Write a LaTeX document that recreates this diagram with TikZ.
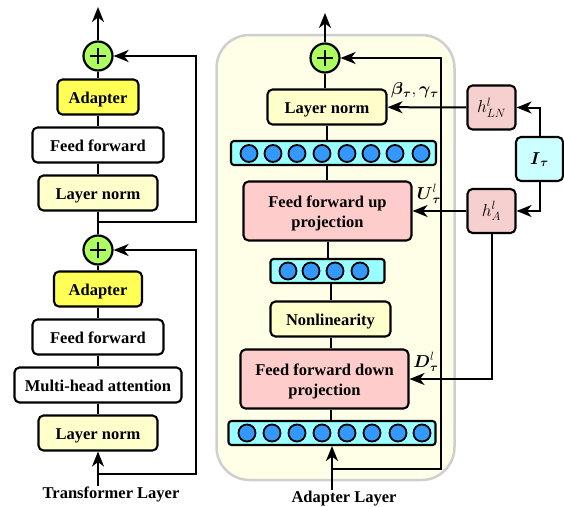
\documentclass[tikz,border=0pt]{standalone}
\usepackage{amsmath}
\usepackage{fontspec}
\setmainfont{Liberation Serif}
\usetikzlibrary{arrows.meta}
\definecolor{panel}{HTML}{FFFFE8}
\definecolor{panelline}{HTML}{CFCFCF}
\definecolor{adaptercol}{HTML}{FFFF55}
\definecolor{normcol}{HTML}{FFFFCC}
\definecolor{projcol}{HTML}{FFCCCC}
\definecolor{hypercol}{HTML}{F6CFCF}
\definecolor{taskcol}{HTML}{CCFFFF}
\definecolor{barcol}{HTML}{99FFFF}
\definecolor{dotcol}{HTML}{3399FF}
\definecolor{pluscol}{HTML}{ADFF5F}
\tikzset{
  box/.style={draw=black, line width=2.1pt, rounded corners=5pt, inner sep=0pt, align=center, text height=17pt, text depth=4pt, font=\bfseries\fontsize{16.5}{20}\selectfont},
  whitebox/.style={box, fill=white},
  adapterbox/.style={box, fill=adaptercol},
  normbox/.style={box, fill=normcol},
  projbox/.style={box, fill=projcol, text height=36pt, text depth=4pt},
  hyperbox/.style={box, fill=hypercol, text height=14pt, text depth=4pt, font=\fontsize{18}{20}\selectfont},
  taskbox/.style={box, fill=taskcol, text height=14pt, text depth=4pt, font=\fontsize{18}{20}\selectfont},
  barbox/.style={box, rounded corners=3pt, fill=barcol},
  dot/.style={circle, draw=black, line width=1.8pt, fill=dotcol, inner sep=0pt, minimum size=17pt},
  plusnode/.style={circle, draw=black, line width=2.2pt, fill=pluscol, inner sep=0pt, minimum size=29pt,
    path picture={
      \draw[line width=2.6pt] ([xshift=-8pt]path picture bounding box.center) -- ([xshift=8pt]path picture bounding box.center);
      \draw[line width=2.6pt] ([yshift=-8pt]path picture bounding box.center) -- ([yshift=8pt]path picture bounding box.center);
    }},
  link/.style={line width=2pt},
  flow/.style={line width=2pt, -{Stealth[length=15pt,width=12pt,inset=4.5pt]}},
  caption/.style={inner sep=0pt, font=\bfseries\fontsize{16.5}{20}\selectfont},
  maths/.style={inner sep=0pt, font=\fontsize{17.28}{20}\selectfont}
}
\begin{document}
\begin{tikzpicture}[x=1pt,y=-1pt]
  \useasboundingbox (0,0) rectangle (564,506);

  % panel behind the adapter
  \node[draw=panelline, fill=panel, line width=2.5pt, rounded corners=33pt, minimum width=238pt, minimum height=445pt, inner sep=0pt] (panel) at (335.5,257.5) {};

  % transformer layer
  \node[plusnode] (plusA) at (98,56) {};
  \node[adapterbox, minimum width=81pt, minimum height=35pt] (adapterA) at (98,97) {Adapter};
  \node[whitebox, minimum width=131pt, minimum height=35pt] (feedA) at (98,145) {Feed forward};
  \node[normbox, minimum width=119pt, minimum height=35pt] (normA) at (98,193) {Layer norm};
  \node[plusnode] (plusB) at (98,250) {};
  \node[adapterbox, minimum width=88pt, minimum height=35pt] (adapterB) at (98,289) {Adapter};
  \node[whitebox, minimum width=131pt, minimum height=35pt] (feedB) at (98,337) {Feed forward};
  \node[whitebox, minimum width=167pt, minimum height=35pt] (attn) at (98,385) {Multi-head attention};
  \node[normbox, minimum width=119pt, minimum height=35pt] (normB) at (98,433) {Layer norm};
  \node[caption] (transformer) at (111,494) {Transformer Layer};
  \coordinate (topA) at (98,7);
  \coordinate (inA) at (98,486);
  \coordinate (tapA) at (98,222);
  \coordinate (tapB) at (98,474);

  \draw[flow] (plusA) -- (topA);
  \draw[link] (plusA) -- (adapterA);
  \draw[link] (adapterA) -- (feedA);
  \draw[link] (feedA) -- (normA);
  \draw[link] (normA) -- (plusB);
  \draw[link] (plusB) -- (adapterB);
  \draw[link] (adapterB) -- (feedB);
  \draw[link] (feedB) -- (attn);
  \draw[link] (attn) -- (normB);
  \draw[flow] (inA) -- (normB);
  \draw[flow] (tapA) -- (196,222) |- (plusA);
  \draw[flow] (tapB) -- (196,474) |- (plusB);

  % adapter layer
  \node[plusnode] (plusC) at (325,58) {};
  \node[normbox, minimum width=119pt, minimum height=35pt] (normC) at (327,107) {Layer norm};
  \node[barbox, minimum width=205pt, minimum height=24pt] (barA) at (333.5,153) {};
  \node[projbox, minimum width=168pt, minimum height=59pt] (upproj) at (327.5,211) {Feed forward up\\projection};
  \node[barbox, minimum width=114pt, minimum height=24pt] (barB) at (327.5,271) {};
  \node[normbox, minimum width=120pt, minimum height=35pt] (nonlin) at (330.5,319) {Nonlinearity};
  \node[projbox, minimum width=168pt, minimum height=59pt] (downproj) at (324.5,379) {Feed forward down\\projection};
  \node[barbox, minimum width=207pt, minimum height=24pt] (barC) at (332,433) {};
  \node[caption] (adapterlayer) at (344,498.5) {Adapter Layer};
  \foreach \px [count=\i] in {249,273,297,322,347,371,395,421}
    \node[dot] (dotA\i) at (\px,153.5) {};
  \foreach \px [count=\i] in {288,311,335,360}
    \node[dot] (dotB\i) at (\px,271) {};
  \foreach \px [count=\i] in {247,272,297,322,347,372,398,422}
    \node[dot] (dotC\i) at (\px,433) {};

  % hypernetworks
  \node[hyperbox, minimum width=48pt, minimum height=44pt] (hnorm) at (491.5,107.5) {$h^{l}_{LN}$};
  \node[hyperbox, minimum width=48pt, minimum height=44pt] (hadapt) at (491.5,211) {$h^{l}_{A}$};
  \node[taskbox, minimum width=47pt, minimum height=44pt] (task) at (539.5,159) {$\boldsymbol{I}_{\boldsymbol{\tau}}$};
  \node[maths] (betalabel) at (415,90) {$\boldsymbol{\beta}_{\boldsymbol{\tau}},\boldsymbol{\gamma}_{\boldsymbol{\tau}}$};
  \node[maths] (uplabel) at (429,194) {$\boldsymbol{U}^{l}_{\boldsymbol{\tau}}$};
  \node[maths] (downlabel) at (426,362) {$\boldsymbol{D}^{l}_{\boldsymbol{\tau}}$};
  \coordinate (topC) at (325,13);
  \coordinate (inC) at (332,490);
  \coordinate (tapC) at (332,469);

  \draw[flow] (plusC) -- (topC);
  \draw[link] (plusC) -- (plusC |- normC.north);
  \draw[link] (normC) -- (normC |- barA.north);
  \draw[link] (normC |- barA.south) -- (normC |- upproj.north);
  \draw[link] (upproj) -- (upproj |- barB.north);
  \draw[link] (nonlin |- barB.south) -- (nonlin);
  \draw[link] (nonlin) -- (nonlin |- downproj.north);
  \draw[link] (nonlin |- downproj.south) -- (nonlin |- barC.north);
  \draw[flow] (inC) -- (inC |- barC.south);
  \draw[flow] (tapC) -- (441,469) |- (plusC);
  \draw[flow] (task.north) |- (hnorm);
  \draw[flow] (task.south) |- (hadapt);
  \draw[flow] (hnorm) -- (normC);
  \draw[flow] (hadapt) -- (upproj);
  \draw[flow] (hadapt) |- (downproj);
\end{tikzpicture}
\end{document}
